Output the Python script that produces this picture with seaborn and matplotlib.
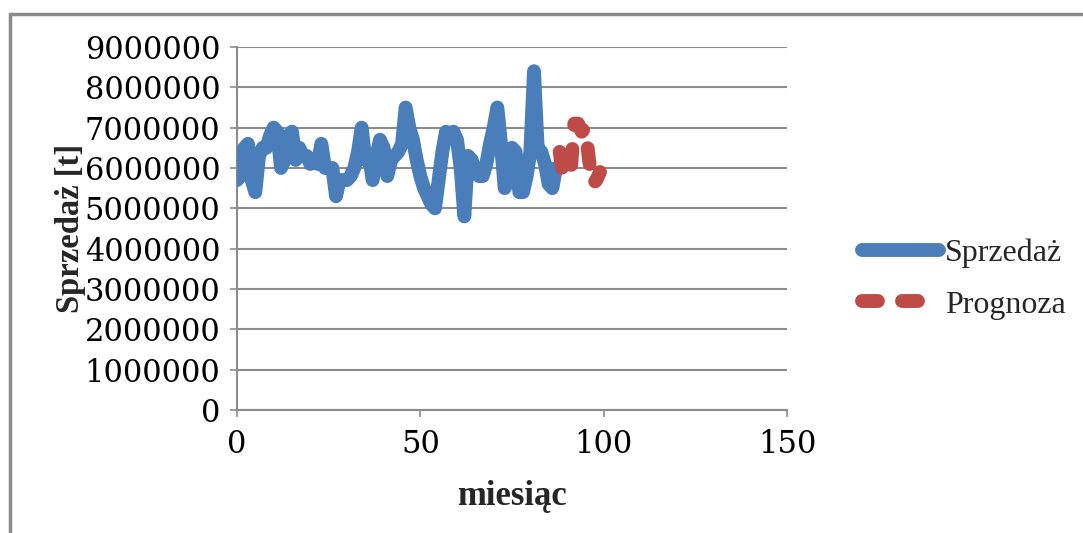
import matplotlib
matplotlib.use("Agg")
import matplotlib.pyplot as plt
import seaborn as sns
import pandas as pd
from matplotlib.patches import Rectangle
from matplotlib.lines import Line2D

# ---- data ----
sales = [5700000, 5800000, 6500000, 6600000, 5700000, 5400000, 6300000, 6500000, 6500000, 6800000,
         7000000, 6900000, 6000000, 6200000, 6800000, 6900000, 6200000, 6500000, 6300000, 6300000,
         6100000, 6200000, 6100000, 6600000, 6000000, 6000000, 6000000, 5300000, 5700000, 5700000,
         5700000, 5800000, 6000000, 6400000, 7000000, 6200000, 6300000, 5700000, 6300000, 6700000,
         6500000, 5800000, 6200000, 6300000, 6400000, 6600000, 7500000, 7000000, 6700000, 6200000,
         5800000, 5500000, 5300000, 5100000, 5000000, 5700000, 6400000, 6900000, 6800000, 6900000,
         6700000, 6000000, 4800000, 6300000, 6200000, 5900000, 5800000, 5800000, 6100000, 6600000,
         7000000, 7500000, 6600000, 5500000, 5700000, 6500000, 6400000, 5400000, 5400000, 5800000,
         6400000, 8400000, 6500000, 6400000, 6100000, 5600000, 5500000, 6000000]
sales_months = list(range(len(sales)))

forecast = [6400000, 5800000, 5850000, 5900000, 7100000, 7100000, 6900000, 7000000, 6200000,
            5600000, 5700000, 5900000]
forecast_months = list(range(88, 88 + len(forecast)))

x_ticks = [0, 50, 100, 150]
y_ticks = [0, 1000000, 2000000, 3000000, 4000000, 5000000, 6000000, 7000000, 8000000, 9000000]
series_names = ["Sprzedaż", "Prognoza"]
x_label = "miesiąc"
y_label = "Sprzedaż [t]"

blue = "#4a7ebb"
red = "#be4b48"
grid_gray = "#8c8c8c"

sns.set_theme(style="white")
plt.rcParams["font.family"] = ["Liberation Serif", "DejaVu Serif"]

W, H = 1083, 533
fig = plt.figure(figsize=(W / 100, H / 100), dpi=100)
ax = fig.add_axes([237 / W, 1 - 410 / H, (787 - 237) / W, (410 - 47) / H])

df_s = pd.DataFrame({"m": sales_months, "v": sales})
df_f = pd.DataFrame({"m": forecast_months, "v": forecast})

lw = 10
dash = (0, (1.15, 1.73))
sns.lineplot(data=df_s, x="m", y="v", ax=ax, color=blue, linewidth=lw,
             solid_capstyle="round", solid_joinstyle="round", zorder=3)
sns.lineplot(data=df_f, x="m", y="v", ax=ax, color=red, linewidth=lw,
             linestyle=dash, dash_capstyle="round", dash_joinstyle="round", zorder=3)

ax.set_xlim(0, 150)
ax.set_ylim(0, 9000000)
ax.set_xticks(x_ticks)
ax.set_yticks(y_ticks)
tick_font = {"family": "DejaVu Serif", "size": 22}
ax.set_yticklabels([str(v) for v in y_ticks], fontdict=tick_font)
ax.set_xticklabels([str(v) for v in x_ticks], fontdict=tick_font)

ax.yaxis.grid(True, color=grid_gray, linewidth=1.5)
ax.xaxis.grid(False)
ax.set_axisbelow(True)
for s in ["top", "right"]:
    ax.spines[s].set_visible(False)
for s in ["left", "bottom"]:
    ax.spines[s].set_color(grid_gray)
    ax.spines[s].set_linewidth(1.5)

ax.tick_params(axis="both", which="major", colors="black",
               length=5, width=1.2, color=grid_gray, direction="out")
ax.tick_params(axis="x", pad=9)
ax.tick_params(axis="y", pad=7)
ax.tick_params(bottom=True, left=True)

ax.set_xlabel(x_label, fontsize=25, fontweight="bold", labelpad=14)
ax.set_ylabel(y_label, fontsize=23.5, fontweight="bold", labelpad=-1)

handles = [
    Line2D([], [], color=blue, linewidth=lw, solid_capstyle="round"),
    Line2D([], [], color=red, linewidth=lw, linestyle=dash, dash_capstyle="round"),
]
leg = fig.legend(handles, series_names, loc="center left",
                 bbox_to_anchor=(862 / W, 1 - 279 / H), frameon=False,
                 fontsize=23, handlelength=2.4, handletextpad=0.2,
                 labelspacing=0.7, borderpad=0, borderaxespad=0)

# outer frame
fig.patches.append(Rectangle((10 / W, -0.2), 2.0, 1 - 14 / H + 0.2, transform=fig.transFigure,
                             fill=False, edgecolor="#8a8a8a", linewidth=2.5, zorder=0))

fig.savefig("out.png", dpi=100)
